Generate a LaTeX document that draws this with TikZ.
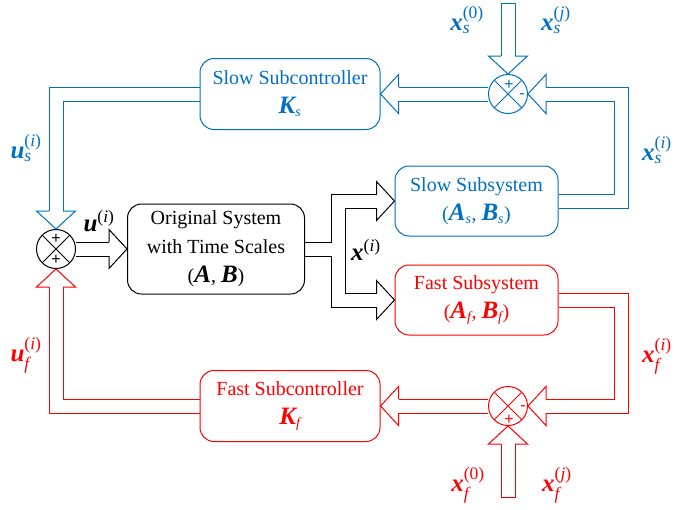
\documentclass[tikz,border=0pt]{standalone}
\usepackage{amsmath}
\usepackage{fontspec}
\setmainfont{Liberation Serif}
\setsansfont{Liberation Sans}
\usetikzlibrary{calc,backgrounds}

\definecolor{slowblue}{RGB}{0,112,192}
\definecolor{fastred}{RGB}{255,0,0}

\newcommand\mvec[1]{\text{\fontsize{25}{28}\selectfont\bfseries\itshape #1}}
\newcommand\msub[1]{\text{\itshape #1}}
\newcommand\pipehead[3]{%
  \draw[#3, line width=1pt, shift={#1}, rotate=#2]
  (-18,7) -- (-18,19.5) -- (0,0) -- (-18,-19.5) -- (-18,-7);}

\tikzset{
  block/.style={draw=#1, text=#1, fill=white, rounded corners=14pt, line width=1pt,
    align=center, inner sep=0pt, font=\fontsize{20}{29}\selectfont},
  block/.default=black,
  sumjunc/.style={circle, draw=#1, fill=white, minimum size=39pt, inner sep=0pt,
    line width=1pt,
    path picture={\draw[#1, line width=1pt]
      (path picture bounding box.north west) -- (path picture bounding box.south east)
      (path picture bounding box.north east) -- (path picture bounding box.south west);}},
  sumjunc/.default=black,
  pipe/.style={draw, double=white, double distance=13pt, line width=1pt},
  sign/.style={font=\sffamily\fontsize{16}{16}\selectfont, inner sep=0pt},
  lbl/.style={font=\fontsize{25}{28}\selectfont, inner sep=0pt}
}

\begin{document}
\begin{tikzpicture}[x=1pt, y=-1pt]
  \useasboundingbox (0,0) rectangle (675,509);

  \node[block=slowblue, minimum width=180pt, minimum height=71pt] (slowctrl) at (290,94)
  {Slow Subcontroller\\$\mvec{K}_{\msub{s}}$};
  \node[block=slowblue, minimum width=163pt, minimum height=70pt] (slowsys) at (476.5,201)
  {Slow Subsystem\\($\mvec{A}_{\msub{s}}$, $\mvec{B}_{\msub{s}}$)};
  \node[block, minimum width=177pt, minimum height=90pt] (orig) at (216,249)
  {Original System\\with Time Scales\\($\mvec{A}$, $\mvec{B}$)};
  \node[block=fastred, minimum width=163pt, minimum height=70pt] (fastsys) at (476.5,300)
  {Fast Subsystem\\($\mvec{A}_{\msub{f}}$, $\mvec{B}_{\msub{f}}$)};
  \node[block=fastred, minimum width=180pt, minimum height=71pt] (fastctrl) at (290,406)
  {Fast Subcontroller\\$\mvec{K}_{\msub{f}}$};

  \node[sumjunc] (sumL) at (56,249) {};
  \node[sumjunc=slowblue] (sumS) at (508,94) {};
  \node[sumjunc=fastred] (sumF) at (508,406) {};

  \node[sign] (sLa) at ($(sumL)+(0,-10)$) {+};
  \node[sign] (sLb) at ($(sumL)+(0,11)$) {+};
  \node[sign, slowblue] (sSa) at ($(sumS)+(1,-9)$) {+};
  \node[sign, slowblue] (sSb) at ($(sumS)+(14,2)$) {-};
  \node[sign, fastred] (sFa) at ($(sumF)+(15,2)$) {-};
  \node[sign, fastred] (sFb) at ($(sumF)+(1,14)$) {+};

  \coordinate (split) at (338,249);
  \coordinate (sbend) at (621.5,150);
  \coordinate (fbend) at (621.5,350);
  \coordinate (stop) at (508,3);
  \coordinate (fbot) at (508,497);

  \begin{pgfonlayer}{background}
    \draw[pipe, slowblue] (slowctrl.west) -| ($(sumL.north)+(0,-18)$);
    \draw[pipe, fastred] (fastctrl.west) -| ($(sumL.south)+(0,18)$);
    \draw[pipe] (sumL.east) -- ($(orig.west)+(-18,0)$);
    \draw[pipe] ($(slowsys.west)+(-18,0)$) -| (split) |- ($(fastsys.west)+(-18,0)$);
    \draw[pipe] (orig.east) -- ($(split)+(-6.4,0)$);
    \draw[pipe, slowblue] (slowsys.east) -| (sbend) |- ($(sumS.east)+(18,0)$);
    \draw[pipe, slowblue] (sumS.west) -- ($(slowctrl.east)+(18,0)$);
    \draw[pipe, fastred] (fastsys.east) -| (fbend) |- ($(sumF.east)+(18,0)$);
    \draw[pipe, fastred] (sumF.west) -- ($(fastctrl.east)+(18,0)$);
    \draw[pipe, slowblue] (stop) -- ($(sumS.north)+(0,-18)$);
    \draw[slowblue, line width=1pt] ($(stop)+(-7.5,0)$) -- ($(stop)+(7.5,0)$);
    \draw[pipe, fastred] (fbot) -- ($(sumF.south)+(0,18)$);
    \draw[fastred, line width=1pt] ($(fbot)+(-7.5,0)$) -- ($(fbot)+(7.5,0)$);
  \end{pgfonlayer}

  \pipehead{(sumL.north)}{270}{slowblue}
  \pipehead{(sumL.south)}{90}{fastred}
  \pipehead{(orig.west)}{0}{black}
  \pipehead{(slowsys.west)}{0}{black}
  \pipehead{(fastsys.west)}{0}{black}
  \pipehead{(sumS.east)}{180}{slowblue}
  \pipehead{(slowctrl.east)}{180}{slowblue}
  \pipehead{(sumF.east)}{180}{fastred}
  \pipehead{(fastctrl.east)}{180}{fastred}
  \pipehead{(sumS.north)}{270}{slowblue}
  \pipehead{(sumF.south)}{90}{fastred}

  \node[lbl, slowblue] (lxs0) at (467,20) {$\mvec{x}_{\msub{s}}^{\text{(0)}}$};
  \node[lbl, slowblue] (lxsj) at (556,20) {$\mvec{x}_{\msub{s}}^{\text{(\textit{j})}}$};
  \node[lbl, slowblue] (lus) at (26,148) {$\mvec{u}_{\msub{s}}^{\text{(\textit{i})}}$};
  \node[lbl, fastred] (luf) at (26,355) {$\mvec{u}_{\msub{f}}^{\text{(\textit{i})}}$};
  \node[lbl] (lu) at (99,221) {$\mvec{u}^{\text{(\textit{i})}}$};
  \node[lbl] (lx) at (366,250) {$\mvec{x}^{\text{(\textit{i})}}$};
  \node[lbl, slowblue] (lxs) at (657,150) {$\mvec{x}_{\msub{s}}^{\text{(\textit{i})}}$};
  \node[lbl, fastred] (lxf) at (657,356) {$\mvec{x}_{\msub{f}}^{\text{(\textit{i})}}$};
  \node[lbl, fastred] (lxf0) at (468,485) {$\mvec{x}_{\msub{f}}^{\text{(0)}}$};
  \node[lbl, fastred] (lxfj) at (557,485) {$\mvec{x}_{\msub{f}}^{\text{(\textit{j})}}$};
\end{tikzpicture}
\end{document}
